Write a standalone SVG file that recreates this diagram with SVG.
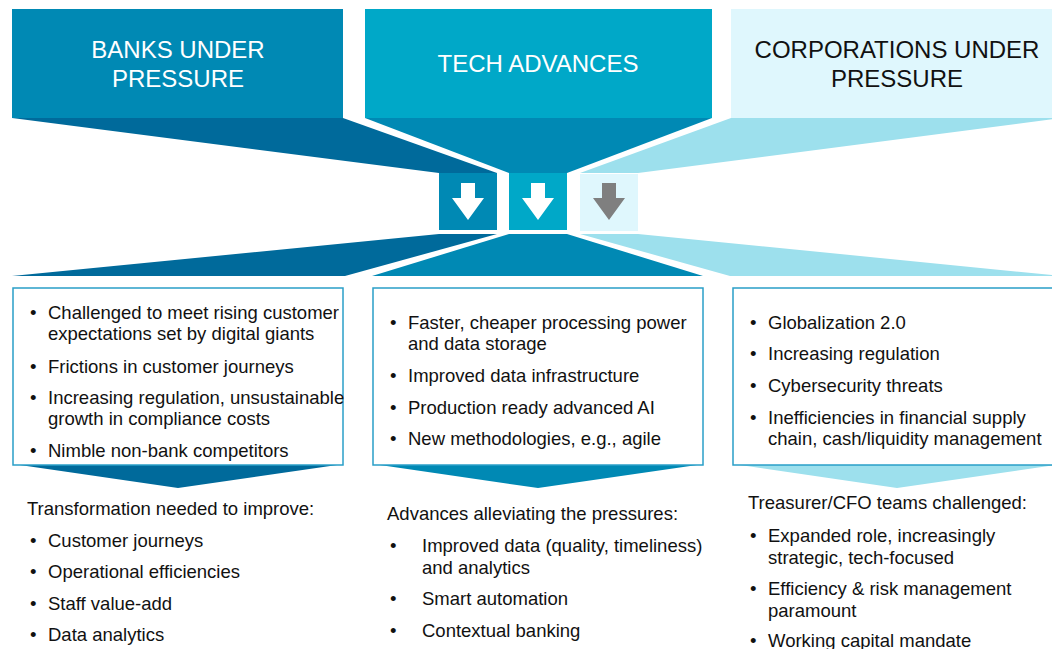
<svg xmlns="http://www.w3.org/2000/svg" width="1052" height="649" viewBox="0 0 1052 649">
<style>
.hd{font-family:"Liberation Sans",Arial,sans-serif;font-size:24px;text-anchor:middle}
.tx{font-family:"Liberation Sans",Arial,sans-serif;font-size:18.5px;fill:#111}
.box{fill:#fff;stroke:#2a9fc8;stroke-width:1.5}
.c1{fill:#0089b4}.c1d{fill:#006a9b}
.c2{fill:#00a8c8}.c2d{fill:#0089b4}
.c3{fill:#dff7fd}.c3d{fill:#9de0ed}
</style>
<defs>
<path id="arr" d="M-7,0 H7 V15 H16 L0,37 L-16,15 H-7 Z"/>
</defs>
<rect width="1052" height="649" fill="#fff"/>
<g id="connectors">
<polygon class="c1d" points="12,118 343,118 497,173 439,173"/>
<polygon class="c2d" points="365,118 712,118 567,173 509,173"/>
<polygon class="c3d" points="731,118 1062,118 638,173 580,173"/>
<polygon class="c1d" points="439,234 497,234 345,276 12,276"/>
<polygon class="c2d" points="509,234 567,234 703,276 372,276"/>
<polygon class="c3d" points="580,234 638,234 1062,276 730,276"/>
<rect class="c1" x="439" y="173" width="58" height="57"/>
<rect class="c2" x="509" y="173" width="58" height="57"/>
<rect class="c3" x="580" y="174" width="58" height="57"/>
<use href="#arr" x="468" y="183" fill="#fff"/>
<use href="#arr" x="538" y="183" fill="#fff"/>
<use href="#arr" x="609" y="183" fill="#7f7f7f"/>
</g>
<g id="banks-header">
<rect class="c1" x="12" y="9" width="331" height="109"/>
<text class="hd" fill="#fff" x="178" y="58">BANKS UNDER</text>
<text class="hd" fill="#fff" x="178" y="87">PRESSURE</text>
</g>
<g id="tech-header">
<rect class="c2" x="365" y="9" width="347" height="109"/>
<text class="hd" fill="#fff" x="538" y="72">TECH ADVANCES</text>
</g>
<g id="corp-header">
<rect class="c3" x="731" y="9" width="331" height="109"/>
<text class="hd" fill="#111" x="897" y="58">CORPORATIONS UNDER</text>
<text class="hd" fill="#111" x="897" y="87">PRESSURE</text>
</g>
<g id="banks-box">
<polygon class="c1d" points="13,464 344,464 178,488"/>
<rect class="box" x="13" y="288" width="330" height="177"/>
<g class="tx">
<text x="30" y="319">•</text><text x="48" y="319">Challenged to meet rising customer</text>
<text x="48" y="340">expectations set by digital giants</text>
<text x="30" y="373">•</text><text x="48" y="373">Frictions in customer journeys</text>
<text x="30" y="404">•</text><text x="48" y="404">Increasing regulation, unsustainable</text>
<text x="48" y="425">growth in compliance costs</text>
<text x="30" y="457">•</text><text x="48" y="457">Nimble non-bank competitors</text>
</g>
</g>
<g id="tech-box">
<polygon class="c2d" points="373,464 704,464 538,488"/>
<rect class="box" x="373" y="288" width="330" height="177"/>
<g class="tx">
<text x="390" y="329">•</text><text x="408" y="329">Faster, cheaper processing power</text>
<text x="408" y="350">and data storage</text>
<text x="390" y="382">•</text><text x="408" y="382">Improved data infrastructure</text>
<text x="390" y="414">•</text><text x="408" y="414">Production ready advanced AI</text>
<text x="390" y="445">•</text><text x="408" y="445">New methodologies, e.g., agile</text>
</g>
</g>
<g id="corp-box">
<polygon class="c3d" points="733,464 1062,464 897,488"/>
<rect class="box" x="733" y="288" width="330" height="177"/>
<g class="tx">
<text x="750" y="329">•</text><text x="768" y="329">Globalization 2.0</text>
<text x="750" y="360">•</text><text x="768" y="360">Increasing regulation</text>
<text x="750" y="392">•</text><text x="768" y="392">Cybersecurity threats</text>
<text x="750" y="424">•</text><text x="768" y="424">Inefficiencies in financial supply</text>
<text x="768" y="445">chain, cash/liquidity management</text>
</g>
</g>
<g id="banks-outcome" class="tx">
<text x="27" y="515">Transformation needed to improve:</text>
<text x="30" y="547">•</text><text x="48" y="547">Customer journeys</text>
<text x="30" y="578">•</text><text x="48" y="578">Operational efficiencies</text>
<text x="30" y="610">•</text><text x="48" y="610">Staff value-add</text>
<text x="30" y="641">•</text><text x="48" y="641">Data analytics</text>
</g>
<g id="tech-outcome" class="tx">
<text x="387" y="520">Advances alleviating the pressures:</text>
<text x="390" y="552">•</text><text x="422" y="552">Improved data (quality, timeliness)</text>
<text x="422" y="574">and analytics</text>
<text x="390" y="605">•</text><text x="422" y="605">Smart automation</text>
<text x="390" y="637">•</text><text x="422" y="637">Contextual banking</text>
</g>
<g id="corp-outcome" class="tx">
<text x="748" y="509">Treasurer/CFO teams challenged:</text>
<text x="750" y="542">•</text><text x="768" y="542">Expanded role, increasingly</text>
<text x="768" y="564">strategic, tech-focused</text>
<text x="750" y="595">•</text><text x="768" y="595">Efficiency &amp; risk management</text>
<text x="768" y="617">paramount</text>
<text x="750" y="647">•</text><text x="768" y="647">Working capital mandate</text>
</g>
</svg>
